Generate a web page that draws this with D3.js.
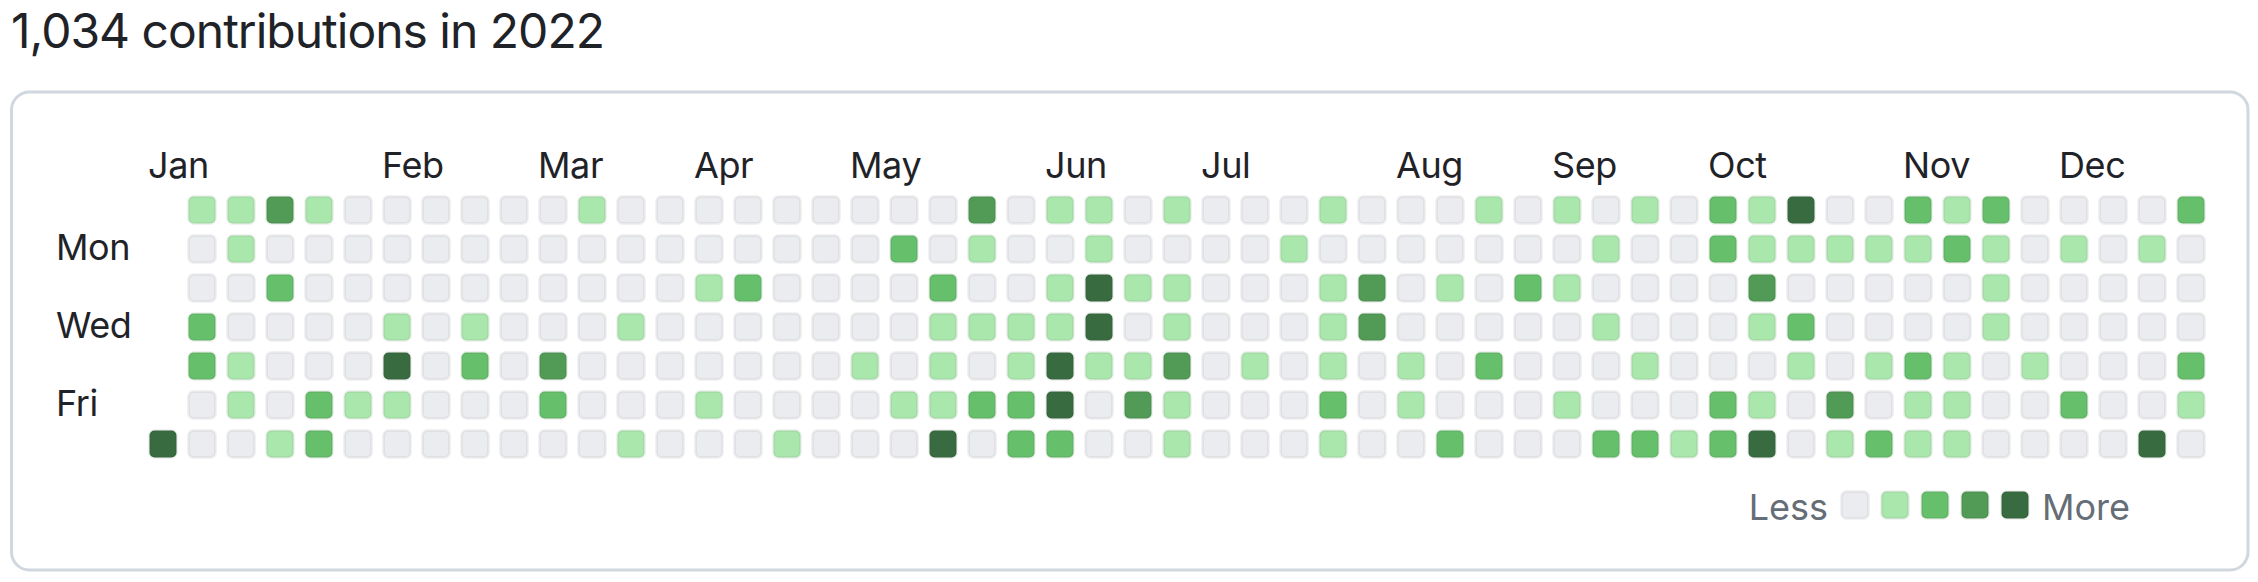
<!DOCTYPE html>
<html>
<head>
<meta charset="utf-8">
<script src="https://cdn.jsdelivr.net/npm/d3@7"></script>
<style>
  html, body { margin: 0; padding: 0; background: #ffffff; }
  svg { display: block; }
  text { font-family: "Inter", "Noto Sans", sans-serif; }
</style>
</head>
<body>
<svg id="chart" width="2258" height="582"></svg>
<script>
// ---- data (contribution level 0-4 per day, indexed by week column 0..52) ----
const year = 2022;
const titleText = "1,034 contributions in 2022";
const monthLabels = ["Jan","Feb","Mar","Apr","May","Jun","Jul","Aug","Sep","Oct","Nov","Dec"];
const dayLabels = ["", "Mon", "", "Wed", "", "Fri", ""];
const legendLow = "Less";
const legendHigh = "More";
const levels = [0, 1, 2, 3, 4];

const sunLevels = [null,1,1,3,1,0,0,0,0,0, 0,1,0,0,0,0,0,0,0,0, 0,3,0,1,1,0,1,0,0,0, 1,0,0,0,1,0,1,0,1,0, 2,1,4,0,0,2,1,2,0,0, 0,0,2];
const monLevels = [null,0,1,0,0,0,0,0,0,0, 0,0,0,0,0,0,0,0,0,2, 0,1,0,0,1,0,0,0,0,1, 0,0,0,0,0,0,0,1,0,0, 2,1,1,1,1,1,2,1,0,1, 0,1,0];
const tueLevels = [null,0,0,2,0,0,0,0,0,0, 0,0,0,0,1,2,0,0,0,0, 2,0,0,1,4,1,1,0,0,0, 1,3,0,1,0,2,1,0,0,0, 0,3,0,0,0,0,0,1,0,0, 0,0,0];
const wedLevels = [null,2,0,0,0,0,1,0,1,0, 0,0,1,0,0,0,0,0,0,0, 1,1,1,1,4,0,1,0,0,0, 1,3,0,0,0,0,0,1,0,0, 0,1,2,0,0,0,0,1,0,0, 0,0,0];
const thuLevels = [null,2,1,0,0,0,4,0,2,0, 3,0,0,0,0,0,0,0,1,0, 1,0,1,4,1,1,3,0,1,0, 1,0,1,0,2,0,0,0,1,0, 0,0,1,0,1,2,1,0,1,0, 0,0,2];
const friLevels = [null,0,1,0,2,1,1,0,0,0, 2,0,0,0,1,0,0,0,0,1, 1,2,2,4,0,3,1,0,0,0, 2,0,1,0,0,0,1,0,0,0, 2,1,0,3,0,1,1,0,0,2, 0,0,1];
const satLevels = [4,0,0,1,2,0,0,0,0,0, 0,0,1,0,0,0,1,0,0,0, 4,0,2,2,0,0,1,0,0,0, 1,0,0,2,0,0,0,2,2,1, 2,4,0,1,2,1,1,0,0,0, 0,4,0];

const weekdayRows = [sunLevels, monLevels, tueLevels, wedLevels, thuLevels, friLevels, satLevels];
const levelColors = ["#ebecf0", "#aae7ad", "#66bf6b", "#519b56", "#386c40"];

// ---- build day records from the calendar ----
const start = new Date(year, 0, 1);
const end = new Date(year + 1, 0, 1);
const days = d3.timeDay.range(start, end).map(d => {
  const week = d3.timeWeek.count(d3.timeYear(d), d);
  const dow = d.getDay();
  return { date: d, week, dow, level: weekdayRows[dow][week] };
});

// ---- layout ----
const svg = d3.select("#chart");
const cell = 30, step = 39;
const x = d3.scaleLinear().domain([0, 52]).range([148, 148 + 52 * step]);
const y = d3.scaleLinear().domain([0, 6]).range([195, 195 + 6 * step]);
const color = d3.scaleOrdinal().domain(levels).range(levelColors);

// title
svg.append("text")
  .attr("x", 11).attr("y", 48)
  .attr("font-size", 48).attr("fill", "#1f2328")
  .attr("letter-spacing", -1)
  .text(titleText);

// box
svg.append("rect")
  .attr("x", 11.5).attr("y", 92)
  .attr("width", 2236.5).attr("height", 478)
  .attr("rx", 18).attr("ry", 18)
  .attr("fill", "none").attr("stroke", "#d0d7de").attr("stroke-width", 3);

// month labels
const monthCols = monthLabels.map((m, i) => {
  if (i === 0) return 0;
  const first = new Date(year, i, 1);
  const sunday = d3.timeSunday.ceil(first);
  return d3.timeWeek.count(start, sunday);
});
svg.append("g").selectAll("text")
  .data(monthLabels)
  .join("text")
  .attr("x", (m, i) => x(monthCols[i]))
  .attr("y", 178)
  .attr("font-size", 36).attr("fill", "#1f2328")
  .attr("letter-spacing", -0.4)
  .text(d => d);

// day labels
svg.append("g").selectAll("text")
  .data(dayLabels)
  .join("text")
  .attr("x", 56)
  .attr("y", (d, i) => y(i) + cell / 2 + 11)
  .attr("font-size", 36).attr("fill", "#1f2328")
  .attr("letter-spacing", -0.4)
  .text(d => d);

// cells
svg.append("g").selectAll("rect")
  .data(days)
  .join("rect")
  .attr("x", d => x(d.week) + 1.5)
  .attr("y", d => y(d.dow) + 1.5)
  .attr("width", cell - 3).attr("height", cell - 3)
  .attr("rx", 5).attr("ry", 5)
  .attr("fill", d => color(d.level))
  .attr("stroke", "rgba(27,31,35,0.06)")
  .attr("stroke-width", 3);

// legend
const lx = d3.scaleLinear().domain([0, 4]).range([1840, 2000]);
const legend = svg.append("g");
legend.append("text")
  .attr("x", 1828).attr("y", 520)
  .attr("text-anchor", "end")
  .attr("font-size", 36).attr("fill", "#656d76")
  .text(legendLow);
legend.selectAll("rect")
  .data(levels)
  .join("rect")
  .attr("x", d => lx(d) + 1.5).attr("y", 491.5)
  .attr("width", cell - 3).attr("height", cell - 3)
  .attr("rx", 5).attr("ry", 5)
  .attr("fill", d => color(d))
  .attr("stroke", "rgba(27,31,35,0.06)")
  .attr("stroke-width", 3);
legend.append("text")
  .attr("x", 2042).attr("y", 520)
  .attr("font-size", 36).attr("fill", "#656d76")
  .text(legendHigh);
</script>
</body>
</html>
